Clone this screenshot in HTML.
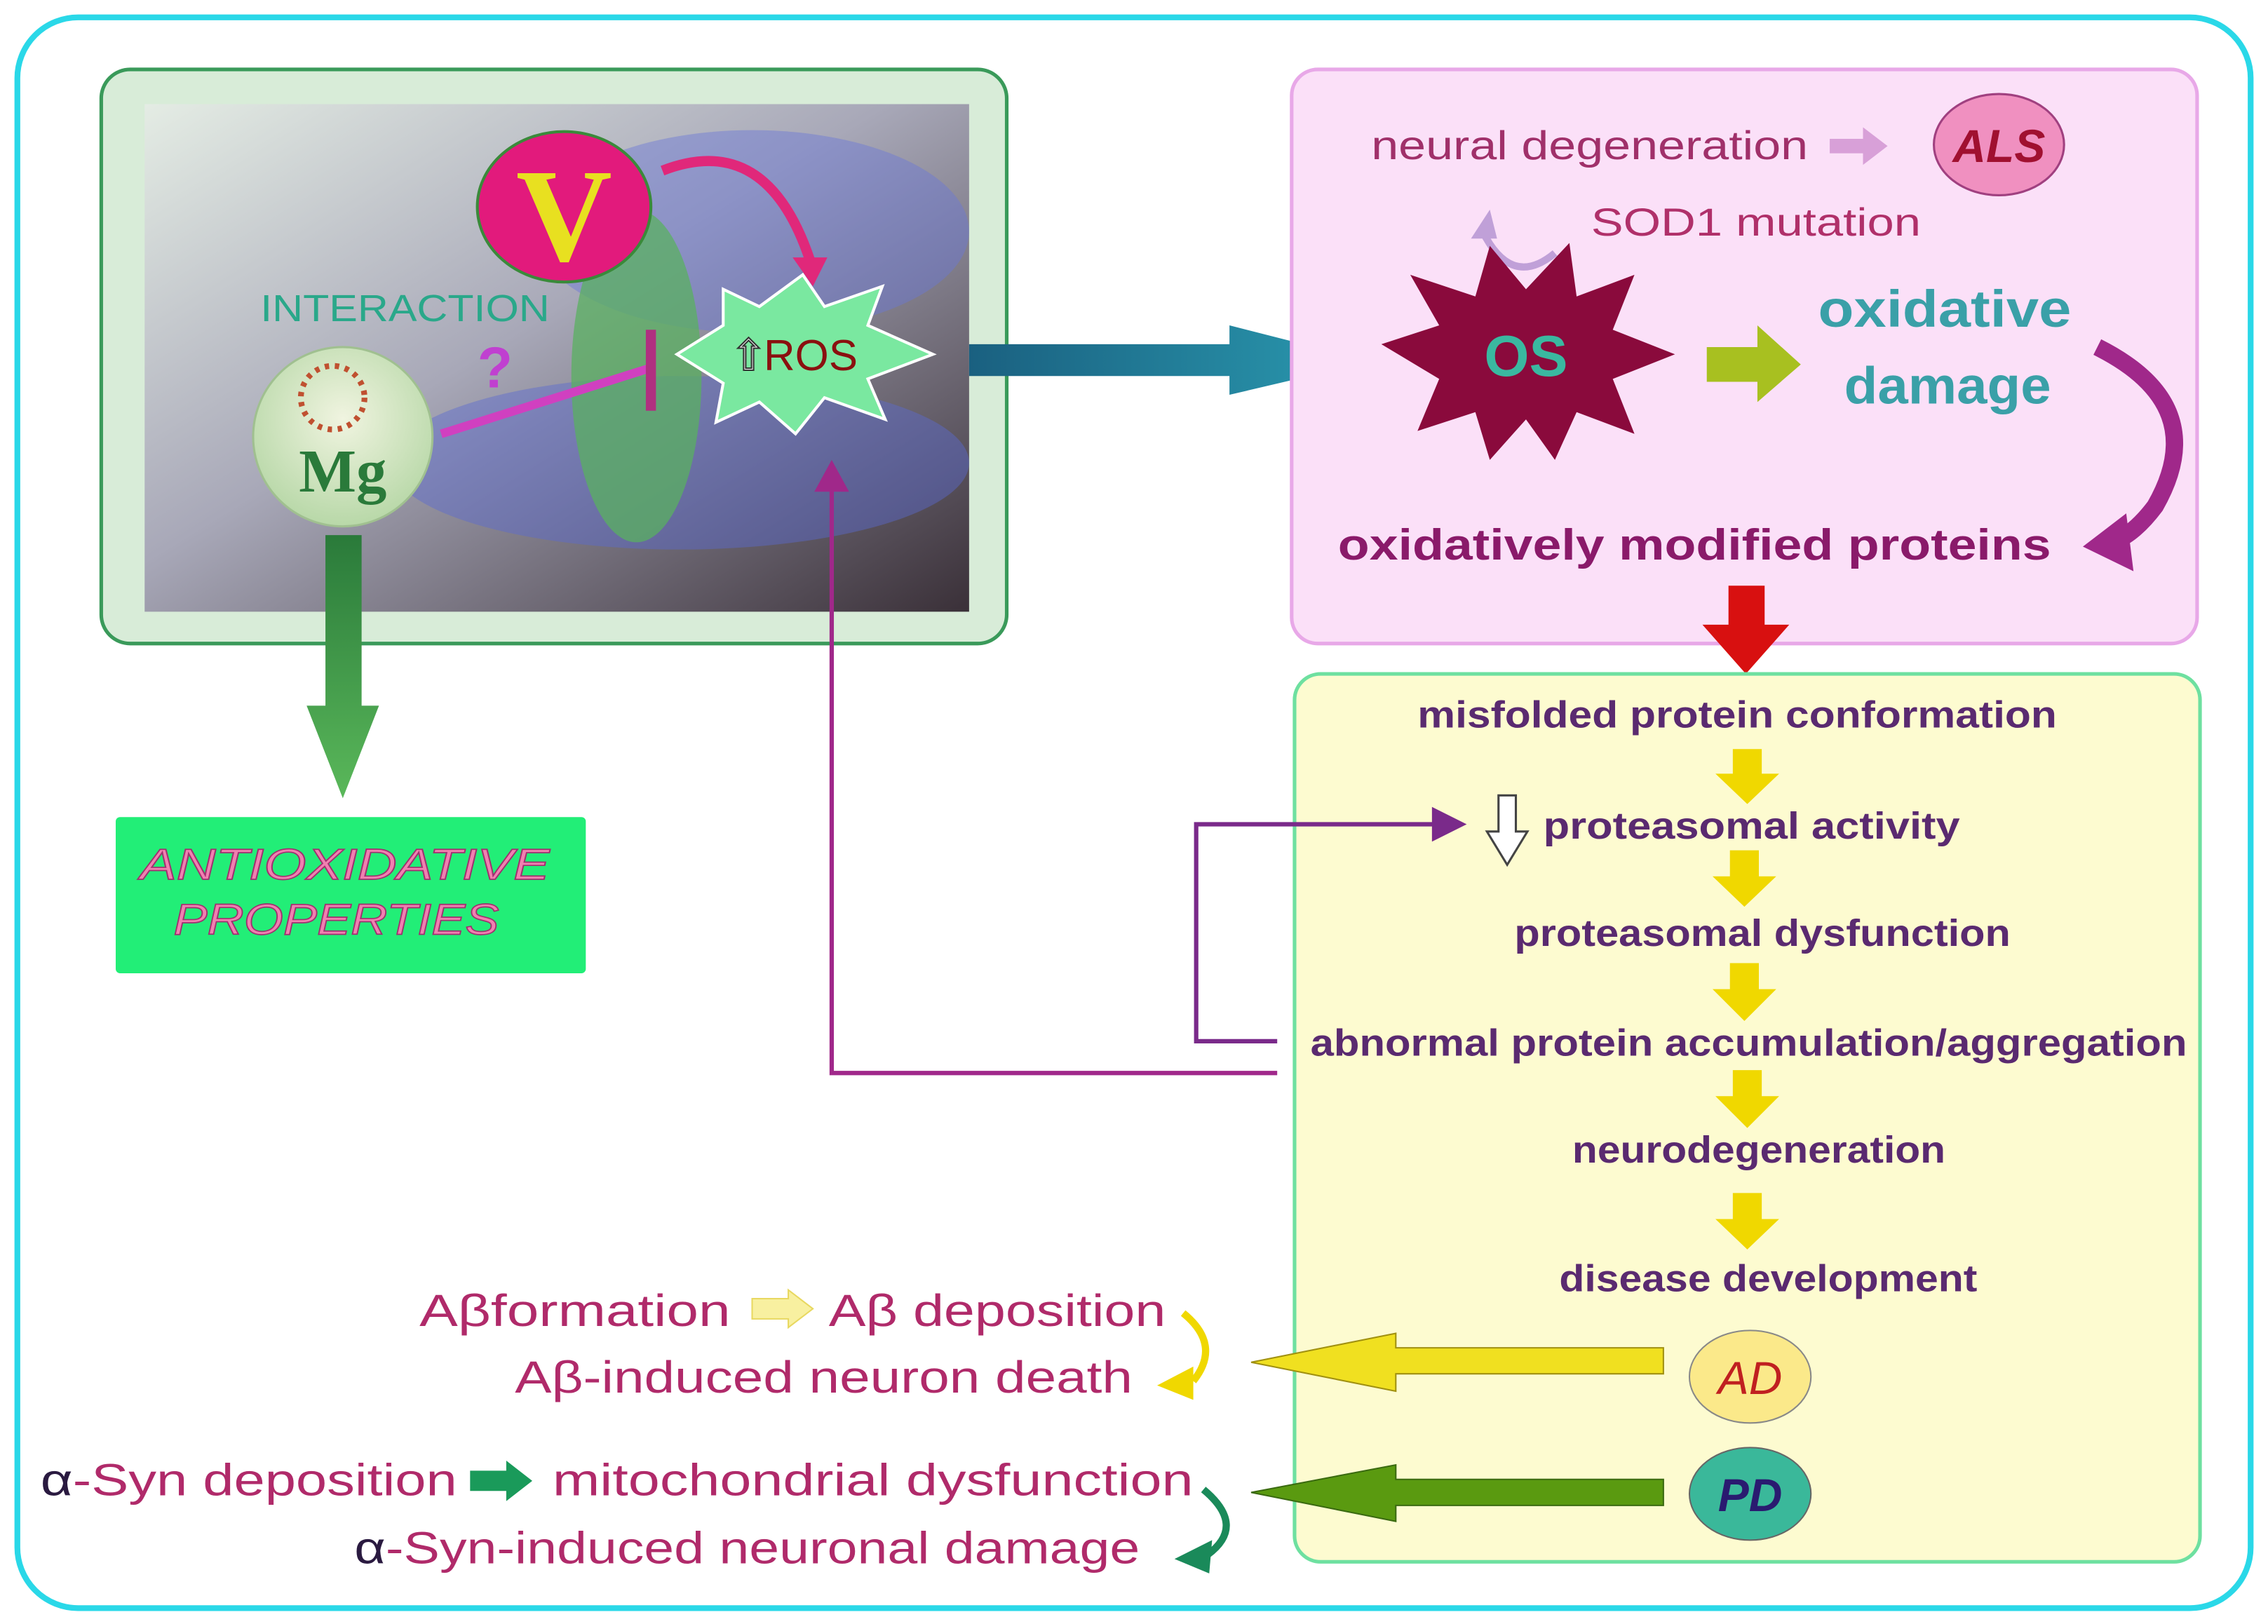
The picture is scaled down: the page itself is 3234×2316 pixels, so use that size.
<!DOCTYPE html>
<html><head><meta charset="utf-8"><style>
html,body{margin:0;padding:0;background:#fff;}
svg{display:block;}
text{font-family:"Liberation Sans",sans-serif;}
</style></head><body>
<svg width="3234" height="2316" viewBox="0 0 1568 1123" preserveAspectRatio="none" xmlns="http://www.w3.org/2000/svg">
<defs>
<linearGradient id="img" x1="0" y1="0" x2="1" y2="1">
<stop offset="0" stop-color="#e4ece4"/><stop offset="0.45" stop-color="#a8a8b8"/><stop offset="1" stop-color="#3a3038"/>
</linearGradient>
<radialGradient id="mg" cx="0.5" cy="0.4" r="0.6"><stop offset="0" stop-color="#f0f4e0"/><stop offset="1" stop-color="#b8d8a8"/></radialGradient>
<linearGradient id="teal" x1="0" x2="1"><stop offset="0" stop-color="#1a6080"/><stop offset="1" stop-color="#2a9ab0"/></linearGradient>
<linearGradient id="grn" x1="0" y1="0" x2="0" y2="1"><stop offset="0" stop-color="#2a7a3a"/><stop offset="1" stop-color="#5ab85a"/></linearGradient>
</defs>
<rect x="0" y="0" width="1568" height="1123" fill="#fff"/>
<rect x="12" y="12" width="1544" height="1100" rx="42" fill="#fff" stroke="#2ad8e8" stroke-width="4"/>

<rect x="70" y="48" width="626" height="397" rx="20" fill="#d8ecd8" stroke="#3a9a5a" stroke-width="2.5"/>
<rect x="100" y="72" width="570" height="351" fill="url(#img)"/>
<ellipse cx="520" cy="160" rx="150" ry="70" fill="#6a78d8" opacity="0.45"/>
<ellipse cx="470" cy="320" rx="200" ry="60" fill="#5a6ad0" opacity="0.45"/>
<ellipse cx="440" cy="260" rx="45" ry="115" fill="#5ab060" opacity="0.75"/>
<ellipse cx="390" cy="143" rx="60" ry="52" fill="#e21a7c" stroke="#3a8a3a" stroke-width="2"/>
<text x="390" y="180" text-anchor="middle" font-weight="bold" font-size="92" fill="#e8e020" style="font-family:'Liberation Serif',serif">V</text>
<path d="M458,118 Q530,90 560,180" fill="none" stroke="#e0287a" stroke-width="7"/>
<polygon points="548,178 572,178 562,198" fill="#e0287a"/>
<text x="180" y="222" font-size="26" fill="#2aa88a" textLength="200" lengthAdjust="spacingAndGlyphs">INTERACTION</text>
<text x="330" y="268" font-size="40" font-weight="bold" fill="#c040d0">?</text>
<circle cx="237" cy="302" r="62" fill="url(#mg)" stroke="#a0c090" stroke-width="1.5"/>
<circle cx="230" cy="275" r="22" fill="none" stroke="#c05030" stroke-width="4" stroke-dasharray="3 4"/>
<text x="237" y="340" text-anchor="middle" font-size="42" font-weight="bold" fill="#2a7a3a" style="font-family:'Liberation Serif',serif">Mg</text>
<line x1="305" y1="300" x2="448" y2="255" stroke="#d040c0" stroke-width="6"/>
<line x1="450" y1="228" x2="450" y2="284" stroke="#b03080" stroke-width="7"/>
<polygon points="468,245 500,225 500,200 525,212 555,190 570,212 610,198 600,225 645,245 600,262 612,290 570,275 550,300 525,278 495,292 500,265" fill="#7ae8a0" stroke="#fff" stroke-width="2"/>
<text x="505" y="256" font-size="30" fill="#fff" stroke="#333" stroke-width="1">⇧</text>
<text x="528" y="256" font-size="30" fill="#8a1010">ROS</text>
<polygon points="670,238 850,238 850,225 948,250 850,273 850,260 670,260" fill="url(#teal)"/>
<polygon points="225,370 250,370 250,488 262,488 237,552 212,488 225,488" fill="url(#grn)"/>
<rect x="80" y="565" width="325" height="108" rx="3" fill="#22ee77"/>
<text x="97" y="608" font-size="30" font-style="italic" fill="#f080b0" stroke="#a03070" stroke-width="0.8" textLength="283" lengthAdjust="spacingAndGlyphs">ANTIOXIDATIVE</text>
<text x="120" y="646" font-size="30" font-style="italic" fill="#f080b0" stroke="#a03070" stroke-width="0.8" textLength="225" lengthAdjust="spacingAndGlyphs">PROPERTIES</text>

<rect x="893" y="48" width="626" height="397" rx="18" fill="#fbe0f8" stroke="#e8a8e8" stroke-width="2.5"/>
<text x="948" y="110" font-size="28" fill="#a0306a" textLength="302" lengthAdjust="spacingAndGlyphs">neural degeneration</text>
<polygon points="1265,96 1288,96 1288,88 1305,101 1288,114 1288,106 1265,106" fill="#d8a0d8"/>
<ellipse cx="1382" cy="100" rx="45" ry="35" fill="#f090c0" stroke="#a04080" stroke-width="1.5"/>
<text x="1382" y="112" text-anchor="middle" font-size="32" font-style="italic" font-weight="bold" fill="#a01030">ALS</text>
<text x="1100" y="163" font-size="27" fill="#b0306a" textLength="228" lengthAdjust="spacingAndGlyphs">SOD1 mutation</text>
<path d="M1075,175 Q1045,200 1025,160" fill="none" stroke="#c0a0d8" stroke-width="5"/>
<polygon points="1017,165 1030,145 1035,165" fill="#c0a0d8"/>
<polygon points="955,238 995,225 975,190 1020,205 1030,170 1055,200 1085,168 1090,205 1130,190 1115,228 1158,245 1115,262 1130,300 1090,285 1075,318 1055,290 1030,318 1020,285 980,298 995,262" fill="#8a0a3c"/>
<text x="1055" y="260" text-anchor="middle" font-size="40" font-weight="bold" fill="#3ab8a0">OS</text>
<polygon points="1180,240 1215,240 1215,225 1245,252 1215,278 1215,264 1180,264" fill="#a8c020"/>
<text x="1257" y="226" font-size="36" font-weight="bold" fill="#3aa0a8" textLength="175" lengthAdjust="spacingAndGlyphs">oxidative</text>
<text x="1275" y="279" font-size="36" font-weight="bold" fill="#3aa0a8" textLength="143" lengthAdjust="spacingAndGlyphs">damage</text>
<path d="M1450,240 Q1530,280 1490,350 Q1475,370 1460,375" fill="none" stroke="#a0288a" stroke-width="12"/>
<polygon points="1440,378 1470,355 1475,395" fill="#a0288a"/>
<text x="925" y="387" font-size="30" font-weight="bold" fill="#8a1a6a" textLength="493" lengthAdjust="spacingAndGlyphs">oxidatively modified proteins</text>
<polygon points="1195,405 1220,405 1220,432 1237,432 1207,466 1177,432 1195,432" fill="#d81010"/>

<rect x="895" y="466" width="626" height="614" rx="18" fill="#fdfbd0" stroke="#6ee0a0" stroke-width="2.5"/>
<g font-size="26" font-weight="bold" fill="#5a2a70" lengthAdjust="spacingAndGlyphs">
<text x="980" y="503" textLength="442" lengthAdjust="spacingAndGlyphs">misfolded protein conformation</text>
<text x="1067" y="580" textLength="288" lengthAdjust="spacingAndGlyphs">proteasomal activity</text>
<text x="1047" y="654" textLength="343" lengthAdjust="spacingAndGlyphs">proteasomal dysfunction</text>
<text x="906" y="730" textLength="606" lengthAdjust="spacingAndGlyphs">abnormal protein accumulation/aggregation</text>
<text x="1087" y="804" textLength="258" lengthAdjust="spacingAndGlyphs">neurodegeneration</text>
<text x="1078" y="893" textLength="289" lengthAdjust="spacingAndGlyphs">disease development</text>
</g>
<polygon points="1036,550 1048,550 1048,575 1056,575 1042,598 1028,575 1036,575" fill="#fff" stroke="#444" stroke-width="1.5"/>
<g fill="#f0d800">
<polygon points="1198,518 1218,518 1218,535 1230,535 1208,556 1186,535 1198,535"/>
<polygon points="1196,588 1216,588 1216,606 1228,606 1206,627 1184,606 1196,606"/>
<polygon points="1196,666 1216,666 1216,684 1228,684 1206,706 1184,684 1196,684"/>
<polygon points="1198,740 1218,740 1218,758 1230,758 1208,780 1186,758 1198,758"/>
<polygon points="1198,825 1218,825 1218,843 1230,843 1208,864 1186,843 1198,843"/>
</g>
<polyline points="883,720 827,720 827,570 995,570" fill="none" stroke="#7a2a8a" stroke-width="3"/>
<polygon points="990,558 1014,570 990,582" fill="#7a2a8a"/>
<polyline points="883,742 575,742 575,338" fill="none" stroke="#a0288a" stroke-width="3"/>
<polygon points="563,340 575,318 587,340" fill="#a0288a"/>

<ellipse cx="1210" cy="952" rx="42" ry="32" fill="#fbe98a" stroke="#888" stroke-width="1"/>
<text x="1210" y="964" text-anchor="middle" font-size="32" font-style="italic" fill="#c02020">AD</text>
<ellipse cx="1210" cy="1033" rx="42" ry="32" fill="#3ab89a" stroke="#666" stroke-width="1"/>
<text x="1210" y="1045" text-anchor="middle" font-size="32" font-style="italic" font-weight="bold" fill="#2a1a70">PD</text>
<polygon points="1150,932 965,932 965,922 865,942 965,962 965,950 1150,950" fill="#f0e020" stroke="#a09010" stroke-width="1"/>
<polygon points="1150,1023 965,1023 965,1013 865,1032 965,1052 965,1041 1150,1041" fill="#5a9a10" stroke="#3a6a10" stroke-width="1"/>

<g font-size="31" fill="#b02a6a">
<text x="290" y="917" textLength="215" lengthAdjust="spacingAndGlyphs">Aβformation</text>
<text x="573" y="917" textLength="233" lengthAdjust="spacingAndGlyphs">Aβ deposition</text>
<text x="356" y="963" textLength="427" lengthAdjust="spacingAndGlyphs">Aβ-induced neuron death</text>
<text x="28" y="1034" textLength="288" lengthAdjust="spacingAndGlyphs"><tspan fill="#2a1a40">α</tspan>-Syn deposition</text>
<text x="382" y="1034" textLength="443" lengthAdjust="spacingAndGlyphs">mitochondrial dysfunction</text>
<text x="245" y="1081" textLength="543" lengthAdjust="spacingAndGlyphs"><tspan fill="#2a1a40">α</tspan>-Syn-induced neuronal damage</text>
</g>
<polygon points="520,898 545,898 545,892 562,905 545,918 545,912 520,912" fill="#f8f0a0" stroke="#e8d860" stroke-width="1"/>
<path d="M818,908 Q845,930 825,955" fill="none" stroke="#f0d800" stroke-width="5"/>
<polygon points="800,958 825,945 825,968" fill="#f0d800"/>
<polygon points="325,1017 350,1017 350,1010 368,1024 350,1038 350,1031 325,1031" fill="#1a9a5a"/>
<path d="M832,1030 Q862,1055 835,1075" fill="none" stroke="#1a8a5a" stroke-width="5"/>
<polygon points="812,1078 838,1065 836,1088" fill="#1a8a5a"/>
</svg>
</body></html>
